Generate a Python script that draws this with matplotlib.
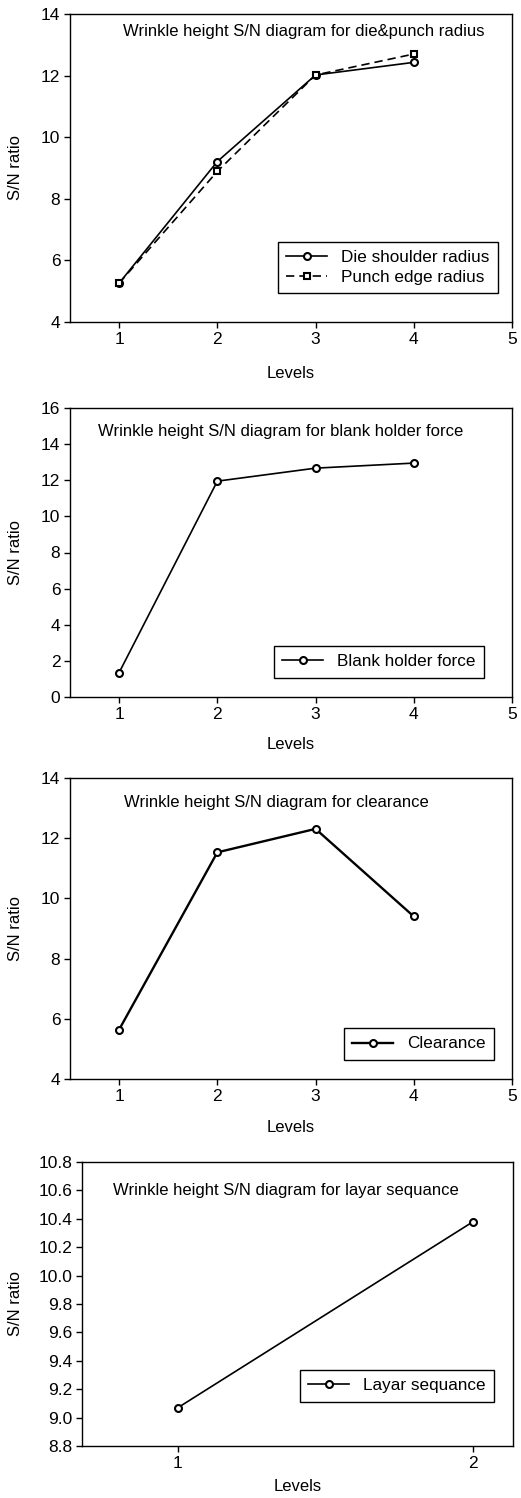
import matplotlib
matplotlib.use("Agg")
import matplotlib.pyplot as plt

plt.rcParams['font.family'] = ['Liberation Sans', 'DejaVu Sans']
plt.rcParams['font.size'] = 12

# data
levels4 = [1, 2, 3, 4]
die_shoulder = [5.26, 9.21, 12.02, 12.43]
punch_edge = [5.26, 8.89, 12.02, 12.70]
blank_holder = [1.35, 11.95, 12.67, 12.95]
clearance = [5.64, 11.53, 12.31, 9.40]
levels2 = [1, 2]
layar = [9.07, 10.38]

W, H = 521, 1498
fig = plt.figure(figsize=(W / 100, H / 100), dpi=100)


def make_ax(left, right, top, bottom):
    return fig.add_axes([left / W, 1 - bottom / H, (right - left) / W, (bottom - top) / H])


def style(ax, title, tx, ty, ylabx, pad=12):
    for s in ax.spines.values():
        s.set_linewidth(1.0)
    ax.tick_params(direction='out', length=4, width=1, labelsize=12.5, pad=3)
    ax.set_xlabel("Levels", fontsize=12, labelpad=pad)
    ax.set_ylabel("S/N ratio", fontsize=12)
    ax.yaxis.set_label_coords(ylabx, 0.5)
    ax.text(tx, ty, title, transform=ax.transAxes, ha='center', va='center', fontsize=12)


def legend(ax, lx, ly):
    leg = ax.legend(loc='lower right', bbox_to_anchor=(lx, ly), borderaxespad=0,
                    fancybox=False, edgecolor='black', framealpha=1, fontsize=12.3,
                    handlelength=2.4, borderpad=0.5, labelspacing=0.25)
    leg.get_frame().set_linewidth(1.0)


mk = dict(marker='o', markersize=5, markerfacecolor='white', markeredgecolor='black',
          markeredgewidth=1.5, color='black', linewidth=1.2)

# panel 1
ax1 = make_ax(70, 512, 14, 322)
ax1.plot(levels4, die_shoulder, label="Die shoulder radius", **mk)
ax1.plot(levels4, punch_edge, label="Punch edge radius", color='black', linewidth=1.2,
         linestyle=(0, (5, 3)), marker='s', markersize=4.5, markerfacecolor='white',
         markeredgecolor='black', markeredgewidth=1.5)
ax1.set_xlim(0.5, 5)
ax1.set_ylim(4, 14)
ax1.set_xticks([1, 2, 3, 4, 5])
ax1.set_yticks([4, 6, 8, 10, 12, 14])
style(ax1, "Wrinkle height S/N diagram for die&punch radius", 0.529, 0.942, -0.106, pad=14)
legend(ax1, 0.968, 0.094)

# panel 2
ax2 = make_ax(70, 512, 408, 697)
ax2.plot(levels4, blank_holder, label="Blank holder force", **mk)
ax2.set_xlim(0.5, 5)
ax2.set_ylim(0, 16)
ax2.set_xticks([1, 2, 3, 4, 5])
ax2.set_yticks(range(0, 17, 2))
style(ax2, "Wrinkle height S/N diagram for blank holder force", 0.477, 0.917, -0.106, pad=11)
legend(ax2, 0.937, 0.066)

# panel 3
ax3 = make_ax(70, 512, 778, 1079)
ax3.plot(levels4, clearance, label="Clearance", linewidth=1.7,
         **{k: v for k, v in mk.items() if k != 'linewidth'})
ax3.set_xlim(0.5, 5)
ax3.set_ylim(4, 14)
ax3.set_xticks([1, 2, 3, 4, 5])
ax3.set_yticks([4, 6, 8, 10, 12, 14])
style(ax3, "Wrinkle height S/N diagram for clearance", 0.466, 0.917, -0.106, pad=12)
legend(ax3, 0.959, 0.063)

# panel 4
ax4 = make_ax(82, 513, 1162, 1446)
ax4.plot(levels2, layar, label="Layar sequance", **mk)
ax4.set_xlim(0.675, 2.135)
ax4.set_ylim(8.8, 10.8)
ax4.set_xticks([1, 2])
ax4.set_yticks([8.8, 9.0, 9.2, 9.4, 9.6, 9.8, 10.0, 10.2, 10.4, 10.6, 10.8])
ax4.yaxis.set_major_formatter(matplotlib.ticker.FormatStrFormatter('%.1f'))
style(ax4, "Wrinkle height S/N diagram for layar sequance", 0.473, 0.901, -0.137, pad=6)
legend(ax4, 0.956, 0.155)

fig.savefig("out.png", dpi=100)
